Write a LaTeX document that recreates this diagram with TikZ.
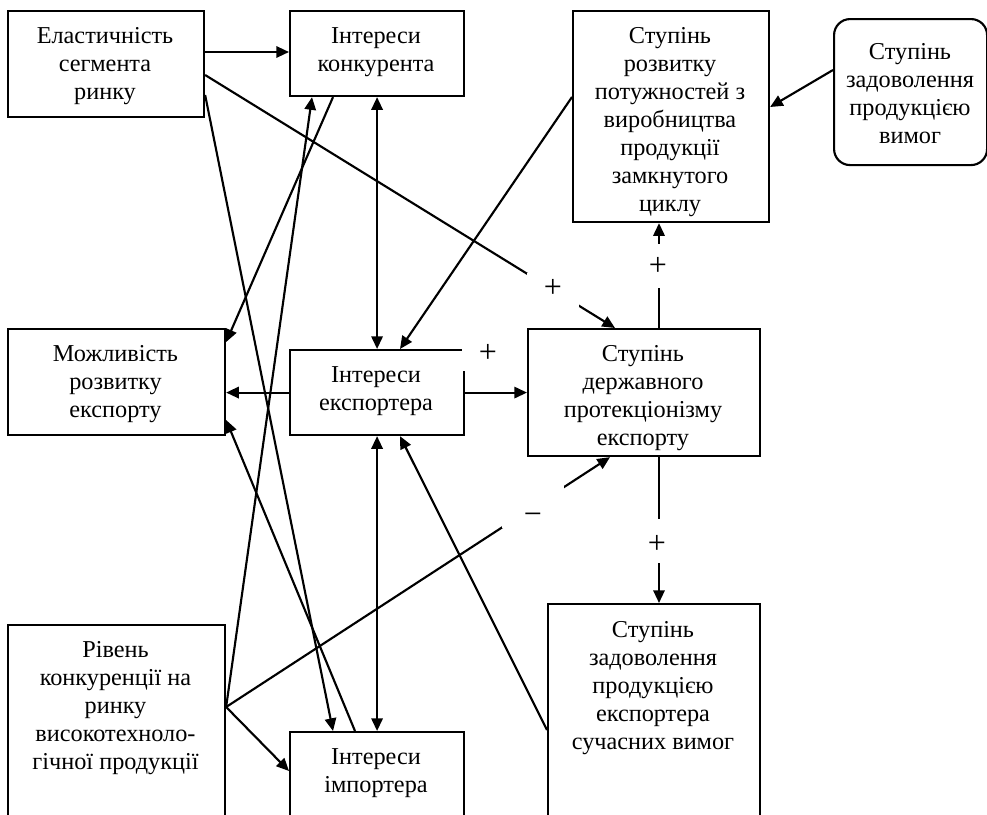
\documentclass[tikz,border=0pt]{standalone}
\usepackage{fontspec}
\setmainfont{Liberation Serif}
\usetikzlibrary{arrows.meta,calc}
\begin{document}
\begin{tikzpicture}[x=0.75pt,y=-0.75pt,
  sz/.style 2 args={minimum width=#1*0.75pt,minimum height=#2*0.75pt},
  box/.style={draw,line width=1.6pt,rectangle,inner sep=0pt,anchor=north west},
  txt/.style={anchor=north,inner sep=0pt,align=center,font=\fontsize{18.2}{21}\selectfont},
  conn/.style={line width=1.6pt,-{Triangle[length=9.5pt,width=8.5pt]}},
  biconn/.style={line width=1.6pt,{Triangle[length=9.5pt,width=8.5pt]}-{Triangle[length=9.5pt,width=8.5pt]}},
  sign/.style={fill=white,inner sep=0pt,text height=0pt,text depth=0pt,font=\fontsize{24}{26}\selectfont}]
\useasboundingbox (0,0) rectangle (987,814);
\clip (0,0) rectangle (987,814);
\fill[white] (0,0) rectangle (987,814);

% boxes
\node[box,sz={196}{106}] (b1) at (7,10) {};
\node[box,sz={174}{85}] (b2) at (289,10) {};
\node[box,sz={196}{211}] (b3) at (572,10) {};
\node[box,sz={153}{146},rounded corners=12pt] (b4) at (833,18) {};
\node[box,sz={217}{106}] (b5) at (7,328) {};
\node[box,sz={174}{85}] (b6) at (289,349) {};
\node[box,sz={232}{127}] (b7) at (527,328) {};
\node[box,sz={217}{300}] (b8) at (7,624) {};
\node[box,sz={174}{200}] (b9) at (289,731) {};
\node[box,sz={212}{300}] (b10) at (547,603) {};

% texts
\node[txt] (t1) at (105,27.6) {Еластичність\\сегмента\\ринку};
\node[txt] (t2) at (376,27.6) {Інтереси\\конкурента};
\node[txt] (t3) at (670,27.6) {Ступінь\\розвитку\\потужностей з\\виробництва\\продукції\\замкнутого\\циклу};
\node[txt] (t4) at (910,43.6) {Ступінь\\задоволення\\продукцією\\вимог};
\node[txt] (t5) at (115.5,345.6) {Можливість\\розвитку\\експорту};
\node[txt] (t6) at (376,366.6) {Інтереси\\експортера};
\node[txt] (t7) at (643,345.6) {Ступінь\\державного\\протекціонізму\\експорту};
\node[txt] (t8) at (115.5,641.6) {Рівень\\конкуренції на\\ринку\\високотехноло-\\гічної продукції};
\node[txt] (t9) at (376,748.6) {Інтереси\\імпортера};
\node[txt] (t10) at (653,621.6) {Ступінь\\задоволення\\продукцією\\експортера\\сучасних вимог};

% connectors
\draw[conn] ($(b1.north east)+(0,42)$) -- ($(b2.north west)+(0,42)$);
\draw[conn] ($(b1.north east)+(0,65)$) -- ($(b7.north west)+(88,0)$);
\draw[conn] ($(b1.north east)+(0,85)$) -- ($(b9.north west)+(44,0)$);
\draw[conn] ($(b2.south west)+(44,0)$) -- ($(b5.north east)+(0,14)$);
\draw[conn] ($(b8.north east)+(0,83)$) -- ($(b2.south west)+(23,0)$);
\draw[conn] ($(b8.north east)+(0,83)$) -- ($(b7.south west)+(83,0)$);
\draw[conn] ($(b8.north east)+(0,83)$) -- ($(b9.north west)+(0,40)$);
\draw[biconn] (b2.south) -- (b6.north);
\draw[biconn] (b6.south) -- (b9.north);
\draw[conn] (b6.west) -- (b6.west -| b5.east);
\draw[conn] (b6.east) -- (b7.west);
\draw[conn] ($(b3.north west)+(0,87)$) -- ($(b6.north west)+(111,0)$);
\draw[conn] ($(b4.north west)+(0,52)$) -- ($(b3.north east)+(0,97)$);
\draw[conn] ($(b7.north west)+(132,0)$) -- ($(b3.south west)+(87,0)$);
\draw[conn] ($(b7.south west)+(132,0)$) -- ($(b10.north west)+(112,0)$);
\draw[conn] ($(b10.north west)+(0,127)$) -- ($(b6.south west)+(111,0)$);
\draw[conn] ($(b9.north west)+(66,0)$) -- ($(b5.north east)+(0,92)$);

% signs
\node[sign,sz={52}{34}] (s1) at (553,290) {\raisebox{-5.25pt}{+}};
\node[sign,sz={52}{34}] (s2) at (488,354) {\raisebox{-6pt}{+}};
\node[sign,sz={40}{44}] (s3) at (658,266) {\raisebox{-6.75pt}{+}};
\node[sign,sz={40}{44}] (s4) at (657,541) {\raisebox{-9pt}{+}};
\node[sign,sz={62}{44}] (s5) at (533,506) {\raisebox{-13.5pt}{−}};
\end{tikzpicture}
\end{document}
